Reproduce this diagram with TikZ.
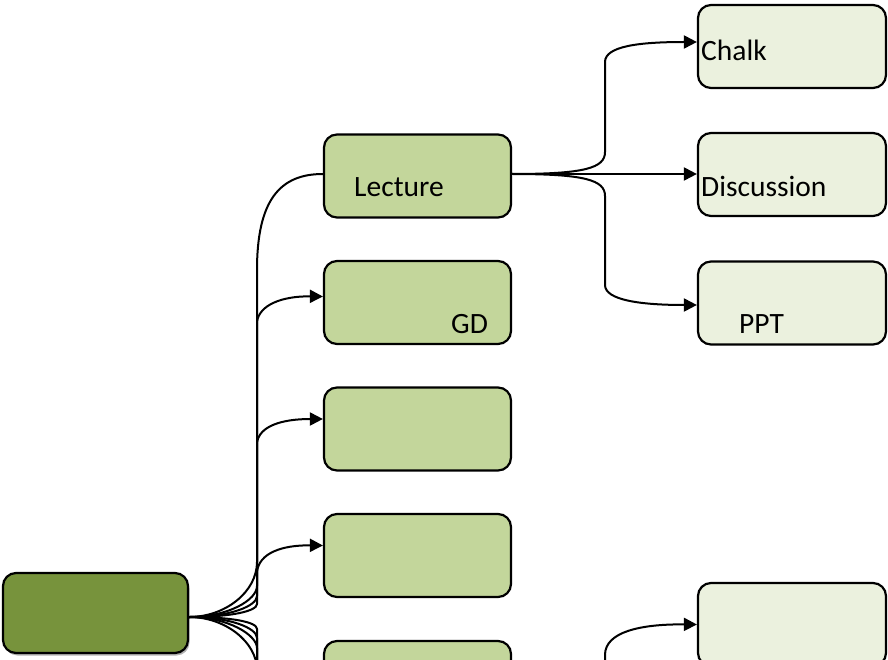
\documentclass[tikz,border=0pt]{standalone}
\usepackage{fontspec}
\setmainfont{Carlito}
\usetikzlibrary{arrows.meta,shadows}

\definecolor{rootgreen}{HTML}{77933C}
\definecolor{midgreen}{HTML}{C3D69B}
\definecolor{leafgreen}{HTML}{EBF1DE}

\begin{document}
\begin{tikzpicture}[x=1pt,y=-1pt,
  box/.style={draw=black, line width=2.2pt, rounded corners=13pt,
    minimum width=187pt, minimum height=83pt, inner sep=0pt},
  rootbox/.style={box, fill=rootgreen, minimum width=185pt, minimum height=80pt,
    drop shadow={shadow xshift=1.5pt, shadow yshift=-2.5pt, opacity=0.3, fill=black}},
  midbox/.style={box, fill=midgreen},
  leafbox/.style={box, fill=leafgreen, minimum width=188pt},
  lbl/.style={anchor=base west, inner sep=0pt, font=\fontsize{29.5}{34}\selectfont},
  link/.style={draw=black, line width=2pt},
  arrowlink/.style={link, -{Triangle[length=13pt,width=13pt]}},
]
\useasboundingbox (0,0) rectangle (888,660);
\clip (0,0) rectangle (888,660);

% boxes
\node[rootbox] (root) at (95.5,613) {};
\node[midbox] (lecture) at (417.5,176) {};
\node[midbox] (gd) at (417.5,302.5) {};
\node[midbox] (m3) at (417.5,429) {};
\node[midbox] (m4) at (417.5,555.5) {};
\node[midbox] (m5) at (417.5,682.5) {};
\node[leafbox] (chalk) at (792,46.5) {};
\node[leafbox] (disc) at (792,174.5) {};
\node[leafbox] (ppt) at (792,303) {};
\node[leafbox] (low) at (792,624.5) {};

% labels
\node[lbl] (lecture-t) at (354,197) {Lecture};
\node[lbl] (gd-t) at (451,333) {GD};
\node[lbl] (chalk-t) at (701,61) {Chalk};
\node[lbl] (disc-t) at (701,197) {Discussion};
\node[lbl] (ppt-t) at (739,333) {PPT};

% connector end points
\coordinate (fan) at ([yshift=-4pt]root.east);
\coordinate (lsrc) at ([yshift=2pt]lecture.east);
\coordinate (d1) at (257,800);
\coordinate (d2) at (257,900);
\coordinate (d3) at (257,1000);
\coordinate (lowsrc) at (605,760);

% root to second level
\draw[link] (fan) .. controls (225,617) and (257,592) .. (257,562) -- (257,270)
  .. controls (257,200) and (280,174) .. ([yshift=2pt]lecture.west);
\draw[arrowlink] (fan) .. controls (228,617) and (257,600) .. (257,586) -- (257,322)
  .. controls (259,305) and (282,296) .. ([yshift=6pt]gd.west);
\draw[arrowlink] (fan) .. controls (230,617) and (257,606) .. (257,596) -- (257,443)
  .. controls (259,426) and (282,419) .. ([yshift=10pt]m3.west);
\draw[arrowlink] (fan) .. controls (232,617) and (257,611) .. (257,604) -- (257,572)
  .. controls (259,553) and (282,545) .. ([yshift=10pt]m4.west);
\draw[arrowlink] (fan) .. controls (232,617) and (257,622) .. (257,629) -- (257,700)
  .. controls (259,683) and (282,673) .. ([yshift=10pt]m5.west);
\draw[link] (fan) .. controls (230,617) and (257,628) .. (257,638) -- (d1);
\draw[link] (fan) .. controls (228,617) and (257,635) .. (257,648) -- (d2);
\draw[link] (fan) .. controls (225,617) and (257,642) .. (257,670) -- (d3);

% lecture to third level
\draw[arrowlink] (lsrc) .. controls (585,174) and (605,168) .. (605,152) -- (605,62)
  .. controls (605,46) and (640,42) .. ([yshift=4.5pt]chalk.west);
\draw[arrowlink] (lsrc) -- (lsrc -| disc.west);
\draw[arrowlink] (lsrc) .. controls (585,174) and (605,180) .. (605,196) -- (605,285)
  .. controls (605,300) and (640,305) .. ([yshift=-2pt]ppt.west);
\draw[arrowlink] (lowsrc) -- (605,655) .. controls (605,632) and (640,624) .. (low.west);
\end{tikzpicture}
\end{document}
